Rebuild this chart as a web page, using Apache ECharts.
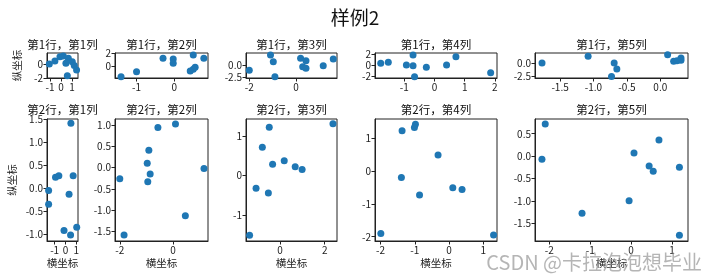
<!DOCTYPE html>
<html><head><meta charset="utf-8">
<script src="https://cdn.jsdelivr.net/npm/echarts@6/dist/echarts.min.js"></script>
<style>html,body{margin:0;padding:0;background:#fff}#c{width:710px;height:277px}</style>
</head><body><div id="c"></div>
<script>
const mainTitle = '样例2';
const watermark = 'CSDN @卡拉泡泡想毕业';
const panelTitles = ['第1行，第1列','第1行，第2列','第1行，第3列','第1行，第4列','第1行，第5列',
                     '第2行，第1列','第2行，第2列','第2行，第3列','第2行，第4列','第2行，第5列'];
const xName = '横坐标';
const yName = '纵坐标';

// row 1
const xR1C1 = [-1.06,-0.55,-0.09,0.21,0.67,0.45,1.03,1.21,1.42,0.58];
const yR1C1 = [0,0.43,1.04,1.14,0.81,0.1,0.33,-0.24,-0.86,-1.71];
const xR1C2 = [-1.41,-1.0,-0.3,-0.03,-0.03,0.5,0.78,0.55,0.5,0.42];
const yR1C2 = [-1.5,-0.75,1.25,1.15,0.5,1.75,1.25,-0.1,-0.4,-0.65];
const xR1C3 = [-2.0,-1.09,-0.97,-0.9,0.2,0.43,0.29,0.43,1.17,1.6];
const yR1C3 = [-1.08,2.04,0.67,-2.38,1.35,0.88,-0.35,-0.68,-0.14,1.2];
const xR1C4 = [-1.78,-1.53,-0.93,-0.71,-0.71,-0.66,-0.27,0.4,0.71,1.86];
const yR1C4 = [0.31,0.49,0,1.82,-0.13,-2.13,-0.42,0,1.51,-1.4];
const xR1C5 = [-1.77,-1.08,-0.69,-0.65,-0.73,0.11,0.2,0.31,0.31,0.25];
const yR1C5 = [0,1.25,0,-1.13,-2.5,1.56,0.31,0.94,0.5,0.4];
// row 2
const xR2C1 = [0.51,-0.92,-0.61,0.72,-1.56,-1.56,0.34,-0.13,0.48,1.05];
const yR2C1 = [1.42,0.24,0.27,0.27,-0.05,-0.35,-0.13,-0.92,-1.02,-0.85];
const xR2C2 = [-1.84,-2.0,-0.95,-0.86,-0.97,-0.91,-0.57,0.09,1.16,0.46];
const yR2C2 = [-1.58,-0.26,-0.33,-0.15,0.1,0.41,0.94,1.02,-0.02,-1.13];
const xR2C3 = [-1.36,-1.07,-0.52,-0.79,-0.48,-0.33,0.19,0.68,0.99,2.37];
const yR2C3 = [-1.52,-0.32,-0.44,0.73,1.24,0.29,0.38,0.23,0.16,1.33];
const xR2C4 = [-1.99,-1.37,-1.39,-0.98,-1.01,-0.86,-0.32,0.11,0.38,1.3];
const yR2C4 = [-1.9,1.23,-0.19,1.43,1.33,-0.73,0.49,-0.51,-0.56,-1.95];
const xR2C5 = [-2.18,-2.1,-1.2,-0.05,0.07,0.44,0.54,0.68,1.18,1.18];
const yR2C5 = [-0.07,0.72,-1.28,-1.0,0.07,-0.22,-0.34,0.36,-0.25,-1.77];

const xData = [xR1C1,xR1C2,xR1C3,xR1C4,xR1C5,xR2C1,xR2C2,xR2C3,xR2C4,xR2C5];
const yData = [yR1C1,yR1C2,yR1C3,yR1C4,yR1C5,yR2C1,yR2C2,yR2C3,yR2C4,yR2C5];

// tick labels
const xTicks = [[-1,0,1],[-1,0],[-2,0],[-1,0,1,2],[-1.5,-1.0,-0.5,0.0],
                [-1,0,1],[-2,0],[0,2],[-2,-1,0,1],[-2,-1,0,1]];
const yTicks = [[-2,0],[0,2],[-2.5,0.0],[-2,0,2],[-2.5,0.0],
                [-1.0,-0.5,0.0,0.5,1.0,1.5],[-1.5,-1.0,-0.5,0.0,0.5,1.0],[-1,0,1],[-2,-1,0,1],[-1.5,-1.0,-0.5,0.0,0.5]];
const xDecimals = [0,0,0,0,1, 0,0,0,0,0];
const yDecimals = [0,0,1,0,1, 1,1,0,0,1];

// axis limits [min,max]
const xLim = [[-1.27,1.55],[-1.57,0.89],[-2.14,1.76],[-1.97,2.07],[-1.875,0.415],
              [-1.71,1.17],[-2.18,1.31],[-1.52,2.55],[-2.16,1.4],[-2.35,1.39]];
const yLim = [[-2.02,1.57],[-1.7,2.04],[-2.64,2.44],[-2.36,2.18],[-2.8,1.87],
              [-1.15,1.51],[-1.72,1.14],[-1.67,1.45],[-2.13,1.59],[-1.9,0.83]];

// layout (px)
const colL = [47,115,246,375,535];
const colR = [78,208,337,497,688];
const rowT = [53,119];
const rowB = [78,241];

const FONT = '"Noto Sans CJK SC", "DejaVu Sans", sans-serif';
const AX = '#222';

const grid=[], xAxis=[], yAxis=[], series=[], graphic=[];
for (let i=0;i<10;i++){
  const r = Math.floor(i/5), c = i%5;
  grid.push({left:colL[c], top:rowT[r], width:colR[c]-colL[c], height:rowB[r]-rowT[r],
    show:true, borderColor:AX, borderWidth:1, backgroundColor:'#fff', containLabel:false});
  const xd = xDecimals[i], yd = yDecimals[i];
  xAxis.push({type:'value', gridIndex:i, min:xLim[i][0], max:xLim[i][1],
    axisLine:{show:true,onZero:false,lineStyle:{color:AX,width:1}},
    axisTick:{show:true,length:3.5,customValues:xTicks[i],lineStyle:{color:AX}},
    axisLabel:{customValues:xTicks[i],fontSize:10,color:'#222',fontFamily:FONT,margin:4,
      formatter:v=>Number(v).toFixed(xd)},
    splitLine:{show:false},
    name: r===1 ? xName : '', nameLocation:'middle', nameGap:17,
    nameTextStyle:{fontSize:10.5,color:'#222',fontFamily:FONT}});
  yAxis.push({type:'value', gridIndex:i, min:yLim[i][0], max:yLim[i][1],
    axisLine:{show:true,onZero:false,lineStyle:{color:AX,width:1}},
    axisTick:{show:true,length:3.5,customValues:yTicks[i],lineStyle:{color:AX}},
    axisLabel:{customValues:yTicks[i],fontSize:10,color:'#222',fontFamily:FONT,margin:4,
      formatter:v=>Number(v).toFixed(yd)},
    splitLine:{show:false},
    name: c===0 ? yName : '', nameLocation:'middle', nameGap: r===0 ? 25 : 30, nameRotate:90,
    nameTextStyle:{fontSize:10.5,color:'#222',fontFamily:FONT}});
  series.push({type:'scatter', xAxisIndex:i, yAxisIndex:i, symbolSize:7, clip:true,
    itemStyle:{color:'#1f77b4',opacity:1}, silent:true,
    data: xData[i].map((x,k)=>[x,yData[i][k]])});
  graphic.push({type:'text', x:(colL[c]+colR[c])/2, y: r===0 ? 45 : 110,
    style:{text:panelTitles[i], fontSize:11.5, fill:'#111', fontFamily:FONT,
      textAlign:'center', textVerticalAlign:'middle'}});
}
graphic.push({type:'text', x:355, y:18, style:{text:mainTitle, fontSize:19, fill:'#111',
  fontFamily:FONT, textAlign:'center', textVerticalAlign:'middle'}});
graphic.push({type:'text', x:702, y:262, z:100, style:{text:watermark, fontSize:20,
  fill:'rgba(150,150,150,0.7)', fontFamily:FONT, textAlign:'right', textVerticalAlign:'middle'}});

const chart = echarts.init(document.getElementById('c'), null, {renderer:'canvas'});
chart.setOption({animation:false, backgroundColor:'#fff', grid, xAxis, yAxis, series, graphic});
</script></body></html>
